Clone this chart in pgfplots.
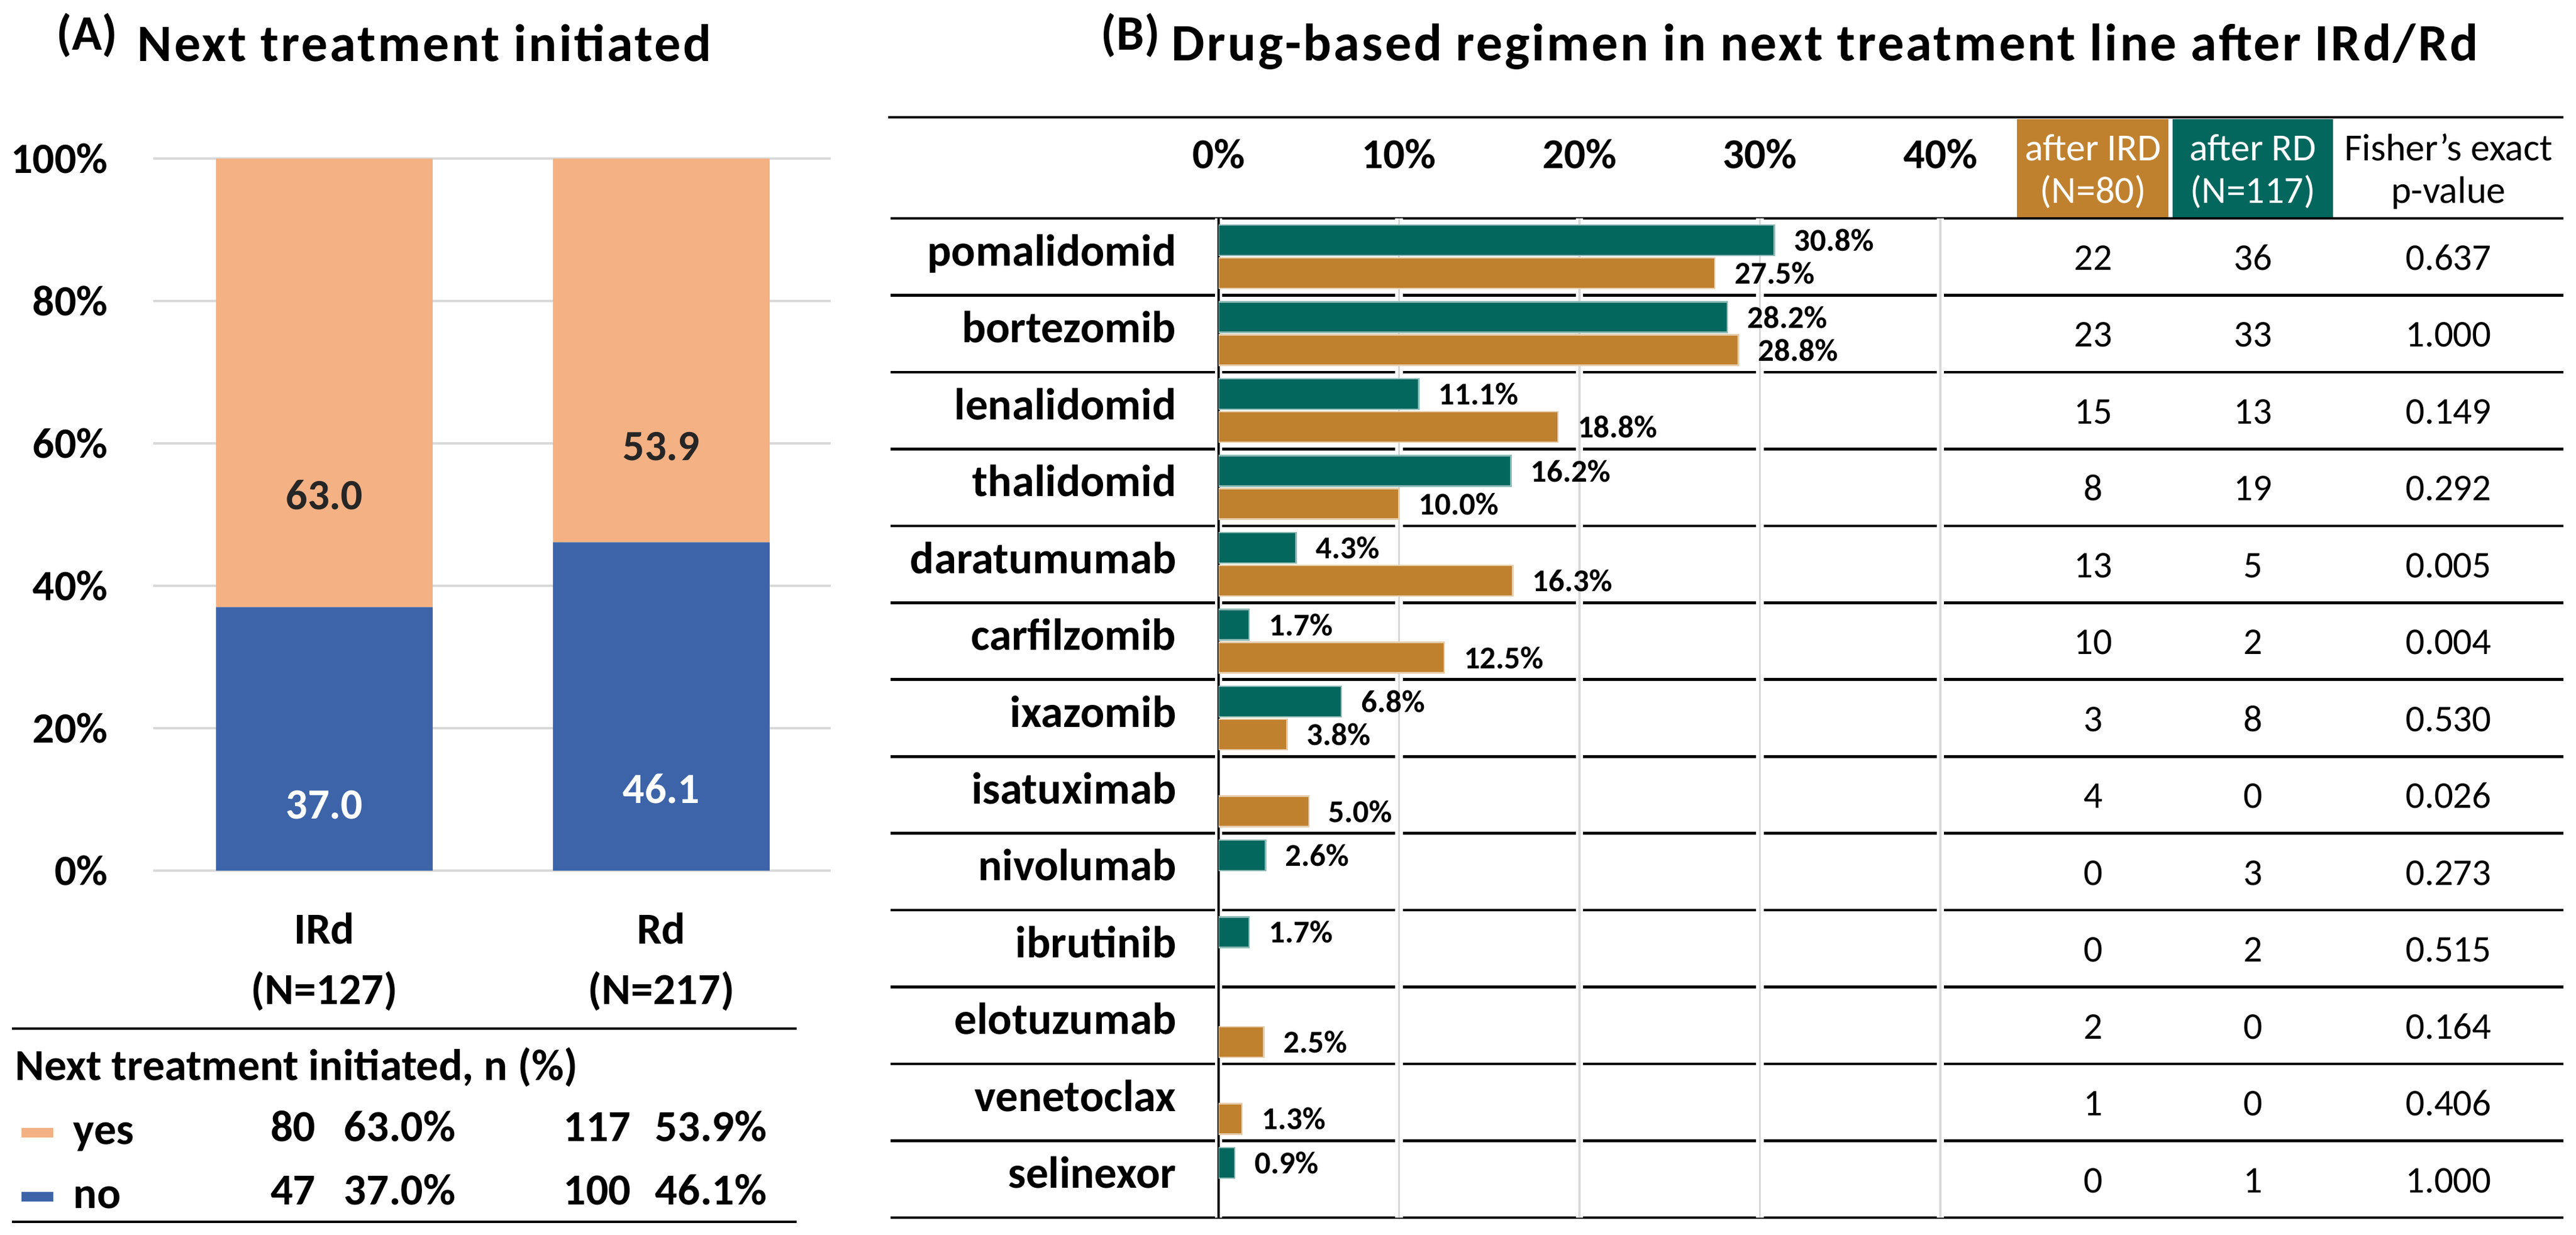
\documentclass[border=0pt]{standalone}
\usepackage{fontspec}
\setmainfont{Carlito}
\newfontfamily\titlefont[LetterSpace=4.0]{Carlito}
\usepackage{pgfplots}
\pgfplotsset{compat=1.18}
\pgfplotsset{/pgf/number format/assume math mode=true}

\definecolor{yesor}{HTML}{F4B183}
\definecolor{noblue}{HTML}{3D64A9}
\definecolor{irdgold}{HTML}{C0812F}
\definecolor{rdteal}{HTML}{03675E}
\definecolor{gridgray}{HTML}{D9D9D9}

\begin{document}
\begin{tikzpicture}
\useasboundingbox (0,0) rectangle (1076pt,-516pt);

% ---------- panel A: titles and table below the bars ----------
\begin{scope}[x=0.25pt,y=-0.25pt]
  \node[anchor=base west,inner sep=0pt,font=\bfseries\fontsize{20.7}{24}\selectfont] at (94,84) {(A)};
  \node[anchor=base west,inner sep=0pt,font=\titlefont\bfseries\fontsize{22}{26}\selectfont] at (229,103) {Next treatment initiated};

  \draw[line width=1.15pt] (20,1719) -- (1331,1719);
  \draw[line width=1.15pt] (20,2042) -- (1331,2042);
  \node[anchor=base west,inner sep=0pt,font=\bfseries\fontsize{18.5}{22}\selectfont] at (25,1805) {Next treatment initiated, n (\%)};

  \fill[yesor] (36,1885) rectangle (89,1901);
  \fill[noblue] (36,1992) rectangle (89,2008);
  \begin{scope}[every node/.style={inner sep=0pt,font=\bfseries\fontsize{18.5}{22}\selectfont}]
    \node[anchor=base west] at (122,1912) {yes};
    \node[anchor=base west] at (122,2019) {no};
    \node[anchor=base east] at (528,1907) {80};
    \node[anchor=base east] at (762,1907) {63.0\%};
    \node[anchor=base east] at (1055,1907) {117};
    \node[anchor=base east] at (1282,1907) {53.9\%};
    \node[anchor=base east] at (528,2013) {47};
    \node[anchor=base east] at (762,2013) {37.0\%};
    \node[anchor=base east] at (1055,2013) {100};
    \node[anchor=base east] at (1282,2013) {46.1\%};
  \end{scope}
\end{scope}

\begin{axis}[
  at={(64pt,-363.75pt)}, anchor=south west,
  scale only axis, width=283pt, height=297.5pt,
  ybar stacked, bar width=0.643,
  xmin=-0.508, xmax=1.503, ymin=0, ymax=100,
  axis line style={draw=none}, major tick length=0pt,
  ytick={0,20,40,60,80,100},
  yticklabel={\pgfmathprintnumber{\tick}\%},
  yticklabel style={anchor=east, inner sep=0pt, xshift=-18.75pt,
    font=\bfseries\fontsize{18}{21}\selectfont},
  ymajorgrids, major grid style={draw=gridgray, line width=1.1pt},
  xtick={0,1},
  xticklabels={{IRd\\(N=127)},{Rd\\(N=217)}},
  xticklabel style={align=center, anchor=north, inner sep=0pt, yshift=-17.4pt,
    font=\bfseries\fontsize{18.5}{25.25}\selectfont},
  visualization depends on=rawy\as\rawy,
  nodes near coords={\pgfmathprintnumber[fixed,fixed zerofill,precision=1]{\rawy}},
  every node near coord/.append style={anchor=center, yshift={-0.25*\rawy*2.975pt},
    font=\bfseries\fontsize{18}{21}\selectfont},
]
\addplot[fill=noblue, draw=none, nodes near coords style={text=white}]
  coordinates {(0,37.0) (1,46.1)};
\addplot[fill=yesor, draw=none, nodes near coords style={text=black!85}]
  coordinates {(0,63.0) (1,53.9)};
\end{axis}

% ---------- panel B: title, rules, table ----------
\begin{scope}[x=0.25pt,y=-0.25pt]
  \node[anchor=base west,inner sep=0pt,font=\bfseries\fontsize{20.7}{24}\selectfont] at (1839,84) {(B)};
  \node[anchor=base west,inner sep=0pt,font=\titlefont\bfseries\fontsize{22}{26}\selectfont] at (1957,102) {Drug-based regimen in next treatment line after IRd/Rd};

  \fill[irdgold] (3370,199) rectangle (3623,363);
  \fill[rdteal] (3630,199) rectangle (3898,363);
  \draw[line width=1.15pt] (1484,196) -- (4283,196);
  \foreach \k in {0,...,13}
    \draw[line width=1.15pt] (1488,{365+128.46*\k}) -- (4283,{365+128.46*\k});

  \begin{scope}[every node/.style={inner sep=0pt,anchor=base,font=\fontsize{16}{19}\selectfont}]
    \node[text=white] at (3497,269) {after IRD};
    \node[text=white] at (3497,340) {(N=80)};
    \node[text=white] at (3764,269) {after RD};
    \node[text=white] at (3764,340) {(N=117)};
    \node at (4091,269) {Fisher’s exact};
    \node at (4091,340) {p-value};
  \end{scope}

  \begin{scope}[every node/.style={inner sep=0pt,anchor=base,font=\fontsize{15.75}{19}\selectfont}]
    \foreach \i/\a/\b/\p in {0/22/36/0.637, 1/23/33/1.000, 2/15/13/0.149, 3/8/19/0.292,
        4/13/5/0.005, 5/10/2/0.004, 6/3/8/0.530, 7/4/0/0.026, 8/0/3/0.273,
        9/0/2/0.515, 10/2/0/0.164, 11/1/0/0.406, 12/0/1/1.000} {
      \node at (3497,{451.5+128.46*\i}) {\a};
      \node at (3764,{451.5+128.46*\i}) {\b};
      \node at (4091,{451.5+128.46*\i}) {\p};
    }
  \end{scope}
\end{scope}

\begin{axis}[
  at={(509pt,-508.75pt)}, anchor=south west,
  scale only axis, width=301.5pt, height=417.5pt,
  xbar, bar width=12.75pt,
  xmin=0, xmax=40, ymin=-0.5, ymax=12.5,
  axis line style={draw=none}, major tick length=0pt,
  xtick={0,10,20,30,40},
  xticklabel pos=right,
  xticklabel={\pgfmathprintnumber{\tick}\%},
  xticklabel style={anchor=base, inner sep=0pt, yshift=20.75pt,
    font=\bfseries\fontsize{17.75}{21}\selectfont},
  xmajorgrids,
  major grid style={draw=gridgray, line width=0.9pt,
    preaction={draw=white, line width=3.2pt}},
  extra x ticks={0}, extra x tick labels={},
  extra x tick style={grid=major, major grid style={draw=black, line width=0.8pt}},
  ytick={0,1,...,12},
  yticklabels={selinexor,venetoclax,elotuzumab,ibrutinib,nivolumab,isatuximab,
    ixazomib,carfilzomib,daratumumab,thalidomid,lenalidomid,bortezomib,pomalidomid},
  yticklabel style={anchor=base east, inner sep=0pt, xshift=-17.5pt, yshift=-3.75pt,
    font=\bfseries\fontsize{18.75}{22}\selectfont},
  point meta=x,
  nodes near coords={\pgfmathprintnumber[fixed,fixed zerofill,precision=1]{\pgfplotspointmeta}\%},
  nodes near coords style={anchor=west, inner sep=0pt, xshift=8pt, text=black,
    font=\bfseries\fontsize{13.25}{16}\selectfont},
]
% after RD (N=117)
\addplot[fill=rdteal, draw=rdteal!45!white, line width=0.6pt, bar shift=6.875pt]
  coordinates {(30.8,12) (28.2,11) (11.1,10) (16.2,9) (4.3,8) (1.7,7) (6.8,6)
               (2.6,4) (1.7,3) (0.9,0)};
% after IRD (N=80)
\addplot[fill=irdgold, draw=irdgold!40!white, line width=0.6pt, bar shift=-6.875pt]
  coordinates {(27.5,12) (28.8,11) (18.8,10) (10.0,9) (16.3,8) (12.5,7) (3.8,6)
               (5.0,5) (2.5,2) (1.3,1)};
\end{axis}
\end{tikzpicture}
\end{document}
